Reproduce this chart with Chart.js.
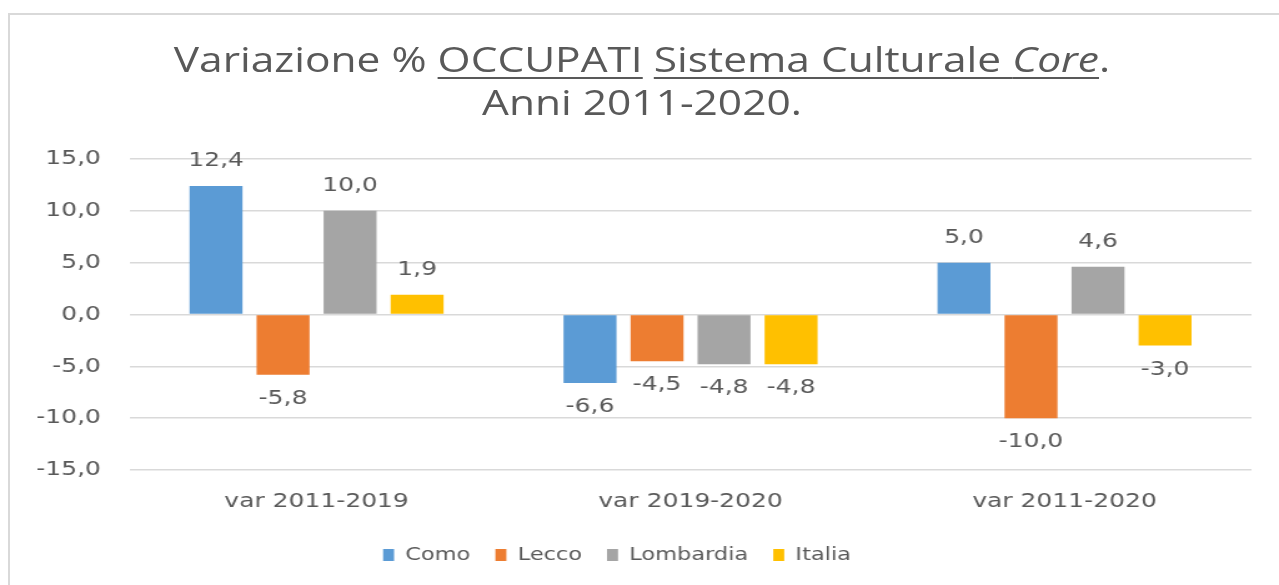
<!DOCTYPE html>
<html>
<head>
<meta charset="utf-8">
<script src="https://cdn.jsdelivr.net/npm/chart.js@4.4.1/dist/chart.umd.min.js"></script>
<style>
  html, body { margin: 0; padding: 0; background: #fff; overflow: hidden; }
  #frame { position: absolute; left: 8px; top: 13px; width: 1320px; height: 620px; border: 2px solid #d9d9d9; box-sizing: border-box; }
  /* il riferimento è stirato in orizzontale: disegno a 1024 px e allargo */
  #wrap { position: absolute; left: 0; top: 0; width: 1024px; height: 585px; transform: scaleX(1.249); transform-origin: 0 0; }
  #title { position: absolute; left: 0; width: 1028px; top: 38px; text-align: center; font-family: "Open Sans", sans-serif; font-size: 34px; line-height: 43px; color: #595959; }
  #title u { text-decoration-thickness: 2px; text-underline-offset: 5px; }
  #box { position: absolute; left: 0; top: 0; width: 1024px; height: 585px; }
</style>
</head>
<body>
<div id="frame"></div>
<div id="wrap">
  <div id="box"><canvas id="chart"></canvas></div>
  <div id="title">Variazione % <u>OCCUPATI</u> <u>Sistema Culturale <i>Core</i></u>.<br>Anni 2011-2020.</div>
</div>
<script>
const $ = (id) => document.getElementById(id);

const categories = ['var 2011-2019', 'var 2019-2020', 'var 2011-2020'];
const como = [12.4, -6.6, 5.0];
const lecco = [-5.8, -4.5, -10.0];
const lombardia = [10.0, -4.8, 4.6];
const italia = [1.9, -4.8, -3.0];
const yTicks = [-15, -10, -5, 0, 5, 10, 15];

const textColor = '#595959';
const fontFamily = '"DejaVu Sans", Verdana, sans-serif';

const fmt = (v) => v.toFixed(1).replace('.', ',');

// etichette dei valori sopra/sotto le barre
const valueLabels = {
    id: 'valueLabels',
    afterDatasetsDraw(chart) {
        const ctx = chart.ctx;
        ctx.save();
        ctx.font = '20px ' + fontFamily;
        ctx.fillStyle = textColor;
        ctx.textAlign = 'center';
        ctx.textBaseline = 'middle';
        chart.data.datasets.forEach((ds, i) => {
            const meta = chart.getDatasetMeta(i);
            meta.data.forEach((bar, j) => {
                const v = ds.data[j];
                const y = v >= 0 ? bar.y - 25 : bar.y + 24;
                ctx.fillText(fmt(v), bar.x, y);
            });
        });
        ctx.restore();
    }
};

// sposta un po' la legenda a sinistra come nell'originale
const legendShift = {
    id: 'legendShift',
    afterLayout(chart) {
        chart.legend.left -= 10;
        chart.legend.right -= 10;
    }
};

new Chart($('chart'), {
    type: 'bar',
    data: {
        labels: categories,
        datasets: [
            { label: 'Como', data: como, backgroundColor: '#5B9BD5' },
            { label: 'Lecco', data: lecco, backgroundColor: '#ED7D31' },
            { label: 'Lombardia', data: lombardia, backgroundColor: '#A5A5A5' },
            { label: 'Italia', data: italia, backgroundColor: '#FFC000' }
        ]
    },
    options: {
        responsive: true,
        maintainAspectRatio: false,
        animation: false,
        categoryPercentage: 0.717,
        barPercentage: 0.79,
        layout: { padding: { top: 159, left: 6, right: 22, bottom: 11 } },
        plugins: {
            title: { display: false },
            tooltip: { enabled: false },
            legend: {
                position: 'bottom',
                labels: {
                    font: { family: fontFamily, size: 18 },
                    color: textColor,
                    boxWidth: 8.8,
                    boxHeight: 12,
                    padding: 20
                }
            }
        },
        scales: {
            x: {
                grid: { display: false },
                border: { display: false },
                ticks: { font: { family: fontFamily, size: 20, lineHeight: 1 }, color: textColor, padding: 14 }
            },
            y: {
                min: -15,
                max: 15,
                afterBuildTicks: (axis) => { axis.ticks = yTicks.map(v => ({ value: v })); },
                grid: { color: '#d9d9d9', lineWidth: 1.5, drawTicks: false },
                border: { display: false },
                ticks: {
                    font: { family: fontFamily, size: 20 },
                    color: textColor,
                    padding: 23,
                    callback: (v) => fmt(v)
                }
            }
        }
    },
    plugins: [valueLabels, legendShift]
});
</script>
</body>
</html>
